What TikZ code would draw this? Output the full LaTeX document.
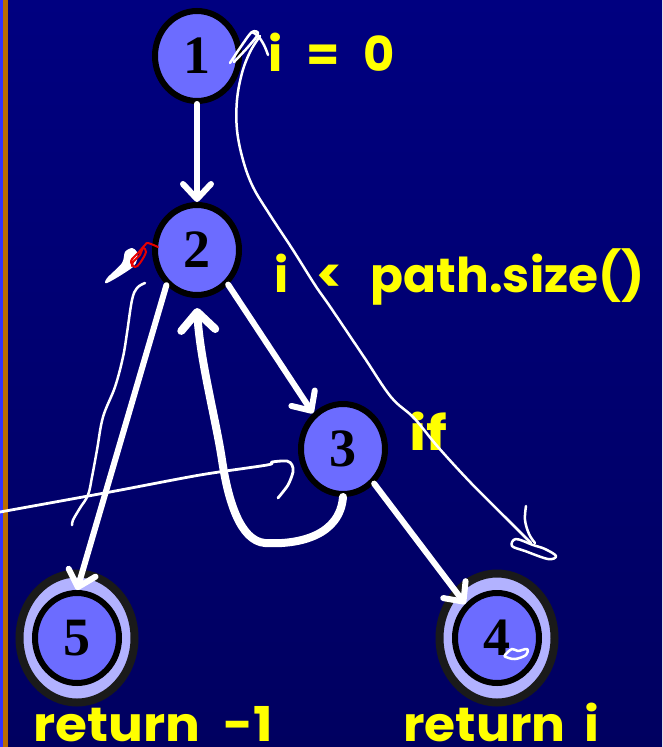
\documentclass[tikz,border=0pt]{standalone}
\usepackage{fontspec}
\setmainfont{Liberation Serif}
\newfontfamily\comic{Poppins}
\usetikzlibrary{shapes.geometric,arrows.meta,calc}
\definecolor{bgtop}{RGB}{0,0,128}
\definecolor{bgbot}{RGB}{0,0,96}
\definecolor{nodefill}{RGB}{108,108,255}
\definecolor{lavender}{RGB}{178,178,255}
\definecolor{darkring}{RGB}{26,26,26}
\definecolor{stripe}{RGB}{186,108,0}
\definecolor{stripeblue}{RGB}{50,50,255}
\definecolor{labelyellow}{RGB}{255,255,0}
\definecolor{penred}{RGB}{230,0,0}
\newlength\labw
\newcommand\fitw[2]{\settowidth\labw{#2}\pgfmathsetmacro\labs{#1/\labw}\scalebox{\labs}[1]{#2}}
\tikzset{
  state/.style={ellipse, draw=black, line width=6pt, fill=nodefill,
    minimum width=84pt, minimum height=90pt, inner sep=0pt,
    font=\fontsize{54}{54}\selectfont\bfseries},
  finalring/.style={ellipse, draw=darkring, line width=8pt, fill=lavender,
    minimum width=115pt, minimum height=129pt, inner sep=0pt},
  edge/.style={draw=white, line width=6pt, line cap=round,
    -{Straight Barb[length=15pt,width=28pt,line cap=round,line join=round]}},
  backedge/.style={draw=white, line width=8pt, line cap=round,
    -{Straight Barb[length=18pt,width=34pt,line cap=round,line join=round]}},
  codelabel/.style={anchor=base west, inner sep=0pt, text depth=0pt, text=labelyellow,
    font=\comic\bfseries\fontsize{48}{48}\selectfont},
  hand/.style={draw=white, line width=2.5pt, line cap=round, line join=round},
}
\begin{document}
\begin{tikzpicture}[x=1pt,y=-1pt]
\useasboundingbox (0,0) rectangle (662,747);
\shade[top color=bgtop, bottom color=bgbot] (0,0) rectangle (662,747);
\fill[stripeblue] (0,0) rectangle (3,747);
\fill[stripe] (3,0) rectangle (8,747);

% final-state rings
\node[finalring] (n5o) at (77,638) {};
\node[finalring] (n4o) at (497,638) {};

% states
\node[state] (n1) at (197,56) {1};
\node[state] (n2) at (197,250) {2};
\node[state] (n3) at (343,449) {3};
\node[state] (n5) at (77,638) {5};
\node[state] (n4) at (497,638) {4};

% edges
\draw[edge] (n1) -- (n2);
\draw[edge] (n2.-131) -- (n5.90);
\draw[edge] (n2.-48) -- (n3.130);
\draw[edge] (n3.-48) -- (n4.133);
\draw[backedge] (n3.south) .. controls (340,535) and (300,545) .. (265,543)
   .. controls (240,541) and (228,500) .. (222,460)
   .. controls (216,420) and (200,360) .. ($(n2.south)+(0,10)$);

% code labels
\node[codelabel] (l1) at (268,71) {i\hspace{24pt}=\hspace{24pt}0};
\node[codelabel] (l2) at (274,292) {i\hspace{28pt}<\hspace{28pt}\fitw{274}{path.size()}};
\node[codelabel] (l3) at (409,450) {\fitw{38}{if}};
\node[codelabel] (l5) at (33,741) {\fitw{240}{return\hspace{22pt}-1}};
\node[codelabel] (l4) at (403,741) {\fitw{196}{return\hspace{18pt}i}};

% hand-drawn pen strokes
\draw[hand] plot[smooth, tension=0.6] coordinates {(230,63) (242,45) (252,32) (258,34) (248,47) (234,62)};
\draw[hand] plot[smooth, tension=0.6] coordinates {(252,32) (258,36) (264,45) (268,55)};
\draw[hand] plot[smooth, tension=0.6] coordinates {(260,36) (250,52) (242,73) (237,100) (237,130) (243,160) (253,187) (270,215) (293,250) (315,285) (331,308) (364,357) (391,397) (414,418) (438,447) (471,483) (508,520) (531,543)};
\draw[hand] plot[smooth, tension=0.6] coordinates {(526,506) (525,520) (529,534) (535,543)};
\draw[hand] plot[smooth cycle, tension=0.6] coordinates {(533,545) (516,539) (512,546) (525,551) (548,559) (556,556) (545,549)};
\fill[white] plot[smooth cycle, tension=0.5] coordinates {(105,282) (108,277) (122,263) (125,252) (132,248) (137,252) (137,260) (133,267) (118,277) (107,283)};
\draw[penred, line width=2pt, line cap=round, line join=round] plot[smooth, tension=0.6] coordinates {(132,266) (133,262) (140,255) (143,248) (146,252) (140,263) (135,267) (131,261) (138,253) (145,245) (148,243) (158,247)};
\draw[hand] plot[smooth, tension=0.6] coordinates {(145,283) (137,288) (132,300) (127,333) (123,357) (115,387) (103,417) (97,450) (92,477) (88,495) (80,508) (73,520) (72,525)};
\draw[hand, line width=2.8pt] plot[smooth, tension=0.5] coordinates {(0,512) (110,492) (200,475) (267,465) (272,462) (287,461) (292,465) (293,472) (288,485) (278,498)};
\draw[hand] plot[smooth cycle, tension=0.6] coordinates {(505,655) (512,649) (518,651) (527,649) (526,655) (515,659) (506,657)};
\end{tikzpicture}
\end{document}
